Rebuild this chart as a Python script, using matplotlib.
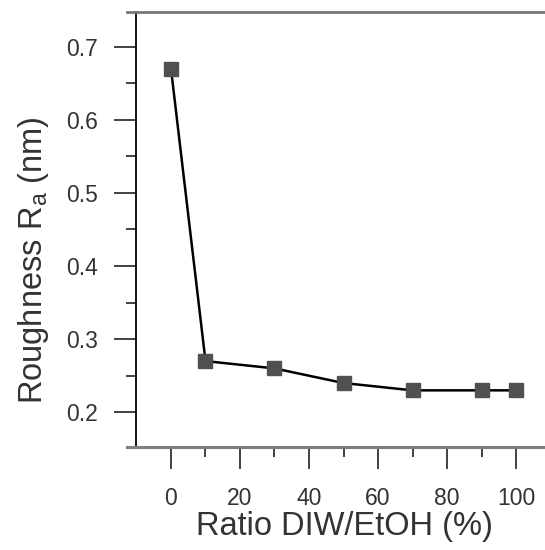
import matplotlib
matplotlib.use("Agg")
import matplotlib.pyplot as plt
from matplotlib.ticker import MultipleLocator

ratio = [0, 10, 30, 50, 70, 90, 100]
roughness = [0.67, 0.27, 0.26, 0.24, 0.23, 0.23, 0.23]

plt.rcParams['font.family'] = ['Liberation Sans', 'DejaVu Sans']

fig = plt.figure(figsize=(5.45, 5.5), dpi=100)
W, H = 545, 550
ax = fig.add_axes([127 / W, 1 - 447 / H, 1 - 127 / W, (447 - 12) / H])

ax.plot(ratio, roughness, color='black', lw=1.8, marker='s', markersize=9.5,
        markerfacecolor='#505050', markeredgecolor='#505050', zorder=3)

ax.set_xlim(-12.75, 108.4)
ax.set_ylim(0.1525, 0.7475)

ax.spines['right'].set_visible(False)
ax.spines['left'].set_position(('data', -10))
ax.spines['left'].set_color('black')
ax.spines['left'].set_linewidth(1.3)
ax.spines['top'].set_color('#777777')
ax.spines['top'].set_linewidth(2)
ax.spines['bottom'].set_color('#808080')
ax.spines['bottom'].set_linewidth(2.2)

ax.set_xticks([0, 20, 40, 60, 80, 100])
ax.set_xticks([10, 30, 50, 70, 90], minor=True)
ax.yaxis.set_major_locator(MultipleLocator(0.1))
ax.yaxis.set_minor_locator(MultipleLocator(0.05))

ax.tick_params(axis='both', which='major', direction='out', length=15.5, width=1.3,
               labelsize=16.5, color='#333333', labelcolor='#333333')
ax.tick_params(axis='both', which='minor', direction='out', length=7, width=1.3,
               color='#333333')
ax.tick_params(axis='x', which='major', pad=13)
ax.tick_params(axis='y', which='major', pad=12)
ax.tick_params(top=False, right=False, which='both')

ax.set_xlabel('Ratio DIW/EtOH (%)', fontsize=23.5, color='#333333')
ax.set_ylabel('Roughness R$_\\mathregular{a}$ (nm)', fontsize=23.5, color='#333333')
ax.xaxis.set_label_coords(0.519, -0.147)
ax.yaxis.set_label_coords(-0.182, 0.43)

fig.savefig('out.png', dpi=100)
